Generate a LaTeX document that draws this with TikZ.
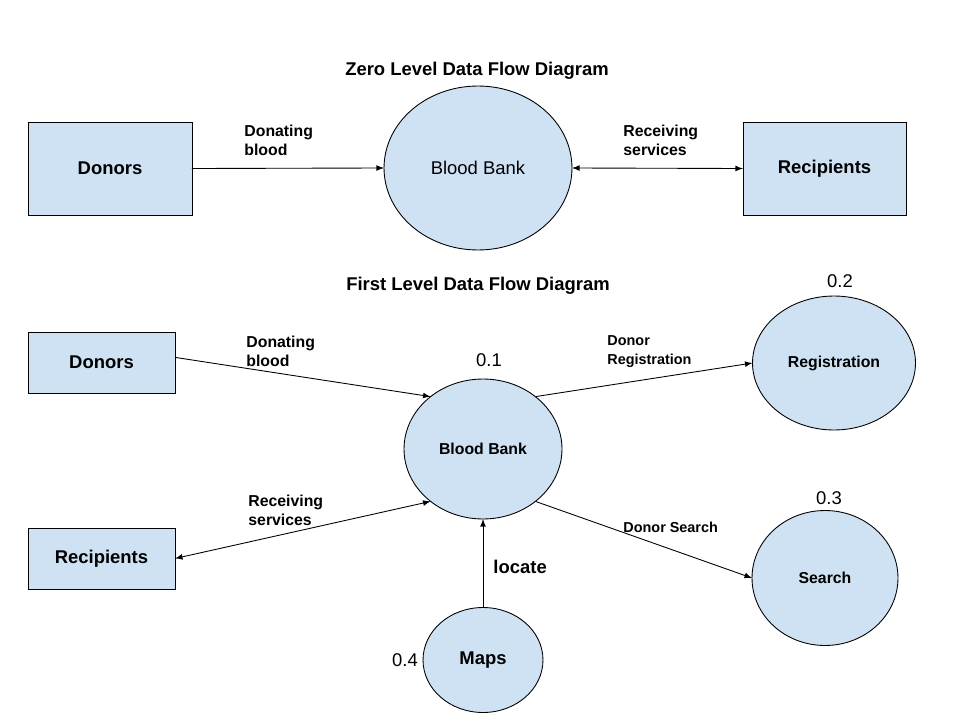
\documentclass[tikz,border=0pt]{standalone}
\usepackage{fontspec}
\setmainfont{Liberation Sans}
\usetikzlibrary{shapes.geometric}
\definecolor{bubble}{HTML}{CFE2F3}

\begin{document}
\begin{tikzpicture}[x = 0.02cm, y = -0.02cm, line width = 0.5pt,
    entity/.style = {draw, fill = bubble, inner sep = 0pt, outer sep = 0pt,
        font = \fontsize{10.5}{12}\selectfont\bfseries},
    process/.style = {ellipse, draw, fill = bubble, inner sep = 0pt, outer sep = 0pt,
        font = \fontsize{9}{11}\selectfont\bfseries},
    flowtext/.style = {anchor = west, align = left, inner sep = 0pt,
        font = \fontsize{9}{10.8}\selectfont\bfseries},
    title/.style = {font = \fontsize{10.5}{12}\selectfont\bfseries},
    number/.style = {font = \fontsize{10.5}{12}\selectfont}]
    \useasboundingbox (0,0) rectangle (960,720);

    % zero level
    \node[title] (title0) at (477,71) {Zero Level Data Flow Diagram};
    \node[entity, minimum width = 3.28cm, minimum height = 1.86cm] (don0) at (110,168.5) {Donors};
    \node[process, minimum width = 3.76cm, minimum height = 3.28cm,
        font = \fontsize{10.5}{12}\selectfont] (bank0) at (478,168) {Blood Bank};
    \node[entity, minimum width = 3.26cm, minimum height = 1.86cm] (rec0) at (824.5,168.5) {Recipients};
    \draw[-latex] (don0.east) -- (bank0.west);
    \draw[latex-latex] (bank0.east) -- (rec0.west);
    \node[flowtext] (donating0) at (244,140) {Donating\\blood};
    \node[flowtext] (receiving0) at (623,140) {Receiving\\services};

    % first level
    \node[title] (title1) at (478,286) {First Level Data Flow Diagram};
    \node[entity, minimum width = 2.94cm, minimum height = 1.22cm] (don1) at (101.5,362.5) {Donors};
    \node[entity, minimum width = 2.94cm, minimum height = 1.22cm] (rec1) at (101.5,558.5) {Recipients};
    \node[process, minimum width = 3.16cm, minimum height = 2.8cm] (bank1) at (483,449) {Blood Bank};
    \node[process, minimum width = 3.26cm, minimum height = 2.68cm] (reg) at (834,363) {Registration};
    \node[process, minimum width = 2.92cm, minimum height = 2.7cm] (search) at (825,578) {Search};
    \node[process, minimum width = 2.4cm, minimum height = 2.1cm,
        font = \fontsize{10.5}{12}\selectfont\bfseries] (maps) at (483,660) {Maps};
    \node[number] (n1) at (489,360) {0.1};
    \node[number] (n2) at (840,281) {0.2};
    \node[number] (n3) at (829,498) {0.3};
    \node[number] (n4) at (405,660) {0.4};
    \draw[-latex] (don1.4) -- (bank1.135);
    \draw[latex-latex] (rec1.east) -- (bank1.225);
    \draw[-latex] (bank1.45) -- (reg.west);
    \draw[-latex] (bank1.315) -- (search.west);
    \draw[-latex] (maps.north) -- (bank1.south);
    \node[flowtext] (donating1) at (246,351) {Donating\\blood};
    \node[flowtext] (receiving1) at (248,510) {Receiving\\services};
    \node[flowtext, font = \fontsize{8.2}{10.8}\selectfont\bfseries] (donreg) at (607,351.5) {Donor\\Registration};
    \node[flowtext, font = \fontsize{8.2}{10.8}\selectfont\bfseries] (donsearch) at (623,527.5) {Donor Search};
    \node[flowtext, font = \fontsize{10.5}{12}\selectfont\bfseries] (locate) at (493,567) {locate};
\end{tikzpicture}
\end{document}
